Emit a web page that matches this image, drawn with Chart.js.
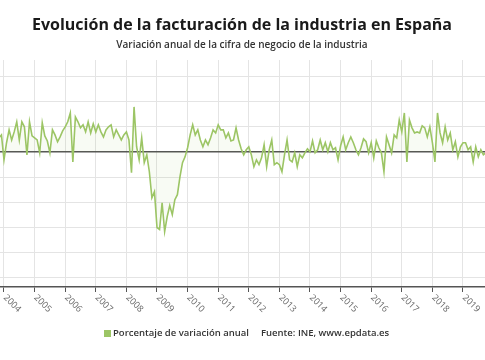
<!DOCTYPE html>
<html>
<head>
<meta charset="utf-8">
<script src="https://cdn.jsdelivr.net/npm/chart.js@4.4.0/dist/chart.umd.min.js"></script>
<style>
  html, body { margin: 0; padding: 0; background: #fff; }
  #wrap { width: 485px; height: 360px; position: relative; }
</style>
</head>
<body>
<div id="wrap"><canvas id="chart"></canvas></div>
<script>
// Monthly series, starting November 2003
const startYear = 2003;
const startMonth = 10; // 0 = January
const variacion = [
  5.5, 6.7,
  -3.2, 3.6, 8.7, 4.7, 7.9, 11.9, 4.7, 11.9, 9.9, -1.2, 11.9, 6.3,
  5.5, 4.7, -0.4, 11.5, 6.3, 4.3, -0.4, 8.7, 6.7, 4.0, 5.9, 8.3,
  9.9, 11.9, 15.4, -4.0, 13.8, 11.9, 9.5, 10.7, 7.9, 11.9, 7.5, 11.1,
  7.9, 10.7, 7.9, 5.9, 8.7, 9.9, 10.7, 5.9, 8.7, 6.7, 4.7, 6.7,
  7.9, 4.7, -8.3, 17.8, 2.0, -3.2, 5.5, -4.3, -1.2, -7.9, -18.2, -15.8,
  -30.0, -30.8, -20.2, -31.6, -25.7, -21.3, -24.9, -19.0, -17.0, -9.9, -4.3, -2.0,
  1.6, 6.7, 10.7, 6.7, 8.7, 4.7, 2.0, 4.7, 2.8, 5.5, 8.7, 7.5,
  10.7, 8.7, 8.7, 5.5, 7.5, 4.3, 4.7, 9.5, 4.7, 1.2, -1.2, 0.8,
  2.0, -1.2, -5.9, -3.2, -5.1, -2.4, 2.8, -5.9, 0.8, 4.7, -5.1, -4.3,
  -5.1, -7.9, -1.2, 4.7, -3.2, -4.0, -0.4, -5.9, -1.2, -2.4, -0.4, 1.2,
  0.0, 4.3, -0.4, 0.8, 4.7, 0.8, 3.6, 0.0, 3.6, 0.8, 1.6, -3.2,
  2.4, 5.9, 0.8, 3.6, 5.9, 3.6, 0.8, -1.2, 1.6, 5.1, 4.0, -0.4,
  3.6, -2.4, 4.3, 1.6, -0.4, -7.9, 5.9, 2.8, -0.4, 6.7, 5.5, 12.6,
  7.9, 15.4, -4.0, 12.6, 9.5, 7.5, 7.9, 7.5, 10.3, 9.5, 5.9, 9.9,
  3.6, -4.0, 15.4, 7.5, 3.6, 9.9, 4.7, 7.5, 0.8, 4.0, -2.0, 2.0,
  3.6, 3.6, 0.8, 2.0, -4.0, 2.0, -2.0, 0.8, -1.2, -0.4
];
const tickYears = [2004, 2005, 2006, 2007, 2008, 2009, 2010, 2011, 2012,
  2013, 2014, 2015, 2016, 2017, 2018, 2019];
const yTicks = [-50, -40, -30, -20, -10, 0, 10, 20, 30];

const titulo = 'Evolución de la facturación de la industria en España';
const subtitulo = 'Variación anual de la cifra de negocio de la industria';
const serieNombre = 'Porcentaje de variación anual';
const fuente = 'Fuente: INE, www.epdata.es';

const lineColor = '#9cc565';
const font = '"Open Sans", "DejaVu Sans", sans-serif';

const points = variacion.map((v, i) => ({
  x: startYear + (startMonth + i) / 12,
  y: v
}));

// texts around the plot: title, rotated year labels, legend and source
const decorations = {
  id: 'decorations',
  afterDraw(chart) {
    const ctx = chart.ctx;
    const xScale = chart.scales.x;
    const area = chart.chartArea;
    ctx.save();

    ctx.textAlign = 'center';
    ctx.textBaseline = 'middle';
    ctx.fillStyle = '#1a1a1a';
    ctx.font = 'bold 16px ' + font;
    ctx.fillText(titulo, 242, 25);
    ctx.fillStyle = '#333';
    ctx.font = '600 10px ' + font;
    ctx.fillText(subtitulo, 242, 45);

    ctx.font = '9px ' + font;
    ctx.fillStyle = '#666';
    ctx.textAlign = 'left';
    ctx.textBaseline = 'top';
    tickYears.forEach(yr => {
      const x = xScale.getPixelForValue(yr);
      ctx.save();
      ctx.translate(x + 4, area.bottom + 6);
      ctx.rotate(Math.PI / 4);
      ctx.fillText(String(yr), 0, 0);
      ctx.restore();
    });

    ctx.fillStyle = lineColor;
    ctx.fillRect(104, 330, 7, 7);
    ctx.fillStyle = '#333';
    ctx.font = '600 9.5px ' + font;
    ctx.textBaseline = 'middle';
    ctx.fillText(serieNombre, 113, 333.5);
    ctx.fillText(fuente, 261, 333.5);
    ctx.restore();
  }
};

const ctx = document.getElementById('chart').getContext('2d');
const chart = new Chart(ctx, {
  type: 'line',
  data: {
    datasets: [{
      label: serieNombre,
      data: points,
      borderColor: lineColor,
      backgroundColor: 'rgba(156, 197, 101, 0.07)',
      borderWidth: 1.6,
      pointRadius: 0,
      tension: 0,
      fill: 'origin'
    }]
  },
  options: {
    responsive: true,
    maintainAspectRatio: false,
    animation: false,
    layout: { padding: { top: 60, bottom: 68, left: 0, right: 0 } },
    plugins: {
      legend: { display: false },
      tooltip: { enabled: false }
    },
    scales: {
      x: {
        type: 'linear',
        min: 2004 - 4 / 30.6,
        max: 2004 - 4 / 30.6 + 485 / 30.6,
        afterBuildTicks: axis => {
          axis.ticks = tickYears.map(v => ({ value: v }));
        },
        ticks: { display: false },
        grid: {
          color: '#e4e4e4',
          lineWidth: 1,
          drawTicks: true,
          tickLength: 5,
          tickColor: '#555'
        },
        border: { display: true, color: '#555', width: 1.5 }
      },
      y: {
        min: -53.6,
        max: 36.4,
        afterBuildTicks: axis => {
          axis.ticks = yTicks.map(v => ({ value: v }));
        },
        ticks: { display: false },
        grid: {
          drawTicks: false,
          color: c => (c.tick && c.tick.value === 0 ? '#555' : '#e4e4e4'),
          lineWidth: c => (c.tick && c.tick.value === 0 ? 1.5 : 1)
        },
        border: { display: false }
      }
    }
  },
  plugins: [decorations]
});
</script>
</body>
</html>
